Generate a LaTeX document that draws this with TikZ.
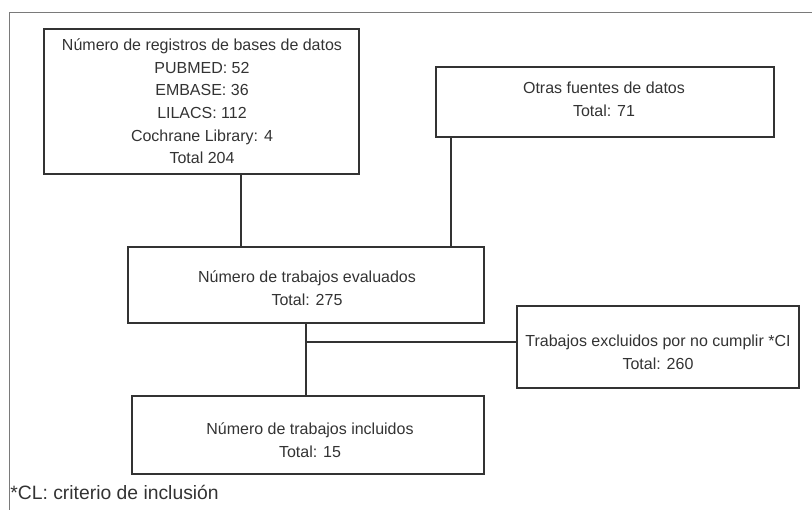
\documentclass[tikz,border=0pt]{standalone}
\usepackage{fontspec}
\setmainfont{Liberation Sans}

\definecolor{ink}{HTML}{333333}
\definecolor{framegray}{HTML}{7A7A7A}

\tikzset{
    box/.style = {rectangle, draw = ink, line width = 1.1pt, inner sep = 0pt},
    txt/.style = {align = center, text = ink, font = \fontsize{9.1}{12.9}\selectfont},
    link/.style = {draw = ink, line width = 1.1pt}
}

\begin{document}
\begin{tikzpicture}

    \useasboundingbox (0,0) rectangle (16.24,10.2);

    \draw[framegray, line width = 0.6pt] (0.19,0) -- (0.19,9.95) -- (16.24,9.95);


    \node[box,
    minimum width = 6.3cm,
    minimum height = 2.9cm] (registros) at (4.03,8.17) {};

    \node[box,
    minimum width = 6.76cm,
    minimum height = 1.4cm] (otras) at (12.1,8.16) {};

    \node[box,
    minimum width = 7.12cm,
    minimum height = 1.52cm] (evaluados) at (6.12,4.5) {};

    \node[box,
    minimum width = 5.64cm,
    minimum height = 1.64cm] (excluidos) at (13.16,3.26) {};

    \node[box,
    minimum width = 7.04cm,
    minimum height = 1.56cm] (incluidos) at (6.16,1.5) {};


    \node[txt] (tregistros) at (4.04,8.17) {Número de registros de bases de datos\\PUBMED: 52\\EMBASE: 36\\LILACS: 112\\Cochrane Library: 4\\Total 204};
    \node[txt] (totras) at (12.08,8.21) {Otras fuentes de datos\\Total: 71};
    \node[txt] (tevaluados) at (6.14,4.44) {Número de trabajos evaluados\\Total: 275};
    \node[txt] (texcluidos) at (13.16,3.16) {Trabajos excluidos por no cumplir *CI\\Total: 260};
    \node[txt] (tincluidos) at (6.2,1.4) {Número de trabajos incluidos\\Total: 15};

    \node[text = ink, font = \fontsize{11}{13}\selectfont, anchor = west, inner sep = 0pt] (nota) at (0.2,0.36) {*CL: criterio de inclusión};


    \coordinate (split) at (6.12,3.36);

      \draw[link] ([xshift = 0.79cm]registros.south) to ([xshift = 0.79cm]registros.south |- evaluados.north);
      \draw[link] ([xshift = -3.08cm]otras.south) to ([xshift = -3.08cm]otras.south |- evaluados.north);
      \draw[link] (evaluados.south) to (evaluados.south |- incluidos.north);
      \draw[link] (split) to (split -| excluidos.west);
  \end{tikzpicture}
\end{document}
